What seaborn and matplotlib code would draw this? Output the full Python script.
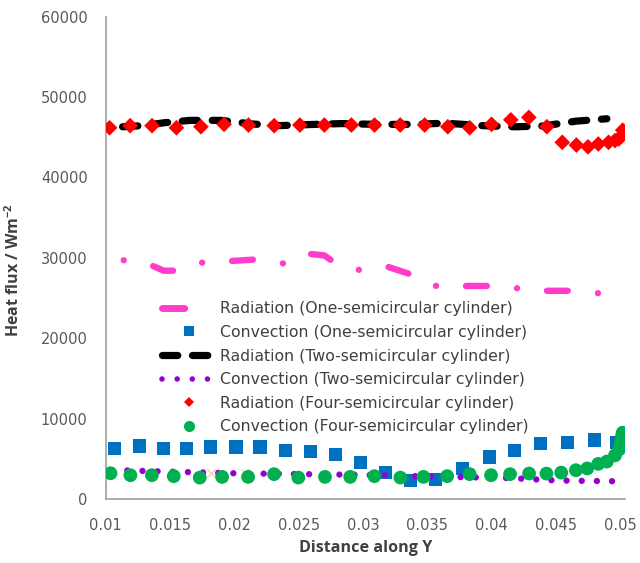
import matplotlib
matplotlib.use("Agg")
import matplotlib.pyplot as plt
from matplotlib.lines import Line2D
import seaborn as sns
import numpy as np

# ---------------- data ----------------
rad_one_x = [0.0114, 0.0135, 0.0145, 0.0153, 0.0175, 0.0197, 0.0217, 0.0238, 0.0258, 0.0270,
             0.0278, 0.0297, 0.0319, 0.0338, 0.0357, 0.0378, 0.0398, 0.0421, 0.0441, 0.0462,
             0.0483, 0.0500]
rad_one_y = [29700, 29100, 28400, 28400, 29400, 29600, 29800, 29300, 30500, 30300,
             29400, 28500, 28900, 27900, 26500, 26500, 26500, 26200, 25900, 25900,
             25600, 25900]

conv_one_x = [0.01068, 0.01265, 0.01448, 0.01628, 0.01817, 0.02013, 0.02199, 0.02395, 0.02592,
              0.02785, 0.02982, 0.03176, 0.03372, 0.03565, 0.03775, 0.03983, 0.04179, 0.04378,
              0.04588, 0.04798, 0.04971]
conv_one_y = [6290, 6590, 6290, 6290, 6470, 6470, 6470, 6040, 5870,
              5520, 4580, 3250, 2350, 2450, 3810, 5220, 6040, 6900,
              7030, 7330, 7030]

rad_two_x = [0.01131, 0.01292, 0.01453, 0.01656, 0.01897, 0.02139, 0.02355, 0.02624, 0.02839,
             0.03108, 0.03377, 0.03646, 0.03915, 0.04184, 0.04400, 0.04656, 0.04897]
rad_two_y = [46300, 46450, 46800, 47100, 47100, 46650, 46450, 46600, 46700,
             46600, 46600, 46750, 46450, 46300, 46400, 47000, 47300]

conv_two_x = [0.0105, 0.0150, 0.0200, 0.0250, 0.0300, 0.0330, 0.0350, 0.0400, 0.0415, 0.0450, 0.0499]
conv_two_y = [3600, 3400, 3200, 3100, 3000, 2900, 2800, 2650, 2600, 2300, 2200]

rad_four_x = [0.0103, 0.0119, 0.0136, 0.0155, 0.0174, 0.0192, 0.0211, 0.0231, 0.0251, 0.0270,
              0.0291, 0.0309, 0.0329, 0.0348, 0.0366, 0.0383, 0.0400, 0.0415, 0.0429, 0.0443,
              0.0455, 0.0466, 0.0475, 0.0483, 0.0491, 0.0496, 0.0499, 0.0501, 0.0502]
rad_four_y = [46180, 46440, 46440, 46180, 46310, 46610, 46520, 46440, 46520, 46520,
              46520, 46520, 46520, 46520, 46310, 46180, 46610, 47170, 47470, 46310,
              44370, 44030, 43810, 44160, 44370, 44590, 44800, 45150, 45880]

conv_four_x = [0.01037, 0.01192, 0.01359, 0.01529, 0.01731, 0.01905, 0.02107, 0.02309, 0.02498,
               0.02705, 0.02901, 0.03089, 0.03291, 0.03471, 0.03655, 0.03830, 0.03996, 0.04144,
               0.04292, 0.04427, 0.04542, 0.04656, 0.04744, 0.04830, 0.04897, 0.04960, 0.04992,
               0.05005, 0.05015, 0.05020]
conv_four_y = [3200, 2960, 2960, 2840, 2660, 2750, 2750, 3090, 2660,
               2750, 2750, 2840, 2660, 2750, 2840, 3090, 2960, 3090,
               3170, 3160, 3280, 3580, 3800, 4370, 4660, 5430, 6170,
               7030, 7890, 8250]

stray_x = [0.0182, 0.0208]
stray_y = [3200, 3250]

labels = ["Radiation (One-semicircular cylinder)",
          "Convection (One-semicircular cylinder)",
          "Radiation (Two-semicircular cylinder)",
          "Convection (Two-semicircular cylinder)",
          "Radiation (Four-semicircular cylinder)",
          "Convection (Four-semicircular cylinder)"]

x_ticks = [0.01, 0.015, 0.02, 0.025, 0.03, 0.035, 0.04, 0.045, 0.05]
x_tick_labels = ["0.01", "0.015", "0.02", "0.025", "0.03", "0.035", "0.04", "0.045", "0.05"]
y_ticks = [0, 10000, 20000, 30000, 40000, 50000, 60000]

# ---------------- style ----------------
sns.set_theme(style="white")
plt.rcParams["font.family"] = ["DejaVu Sans"]
plt.rcParams["lines.scale_dashes"] = False

PINK = "#FF3CCB"
BLUE = "#0070C0"
BLACK = "#000000"
PURPLE = "#9400D3"
RED = "#FF0000"
GREEN = "#00B050"
AXIS = "#A6A6A6"
TEXT = "#404040"

fig = plt.figure(figsize=(6.4, 5.63), dpi=100)
ax = fig.add_axes([0.1652, 0.1137, 0.8118, 0.8567])

pink_ls = (0, (0.01, 21.6, 15.0, 21.8))
black_ls = (0, (11.0, 10.6))
purple_ls = (0, (0.01, 10.9))

sns.lineplot(x=rad_one_x, y=rad_one_y, ax=ax, color=PINK, linewidth=4.6,
             linestyle=pink_ls, dash_capstyle="round", sort=False, zorder=2)
sns.scatterplot(x=conv_one_x, y=conv_one_y, ax=ax, marker="s", s=90, color=BLUE,
                edgecolor="none", linewidth=0, zorder=3)
sns.lineplot(x=rad_two_x, y=rad_two_y, ax=ax, color=BLACK, linewidth=5.2,
             linestyle=black_ls, dash_capstyle="round", sort=False, zorder=4)
sns.lineplot(x=conv_two_x, y=conv_two_y, ax=ax, color=PURPLE, linewidth=4.6,
             linestyle=purple_ls, dash_capstyle="round", sort=False, zorder=5)
sns.scatterplot(x=rad_four_x, y=rad_four_y, ax=ax, marker="D", s=64, color=RED,
                edgecolor="none", linewidth=0, zorder=6)
sns.scatterplot(x=conv_four_x, y=conv_four_y, ax=ax, marker="o", s=98, color=GREEN,
                edgecolor="none", linewidth=0, zorder=7)
sns.scatterplot(x=stray_x, y=stray_y, ax=ax, marker="x", s=40, color="#F4B183",
                linewidth=1.0, alpha=0.6, zorder=2.5)

ax.set_xlim(0.01, 0.0504)
ax.set_ylim(0, 60000)
ax.set_xticks(x_ticks)
ax.set_xticklabels(x_tick_labels)
ax.set_yticks(y_ticks)
ax.set_yticklabels([str(v) for v in y_ticks])
ax.tick_params(axis="both", length=0, labelsize=10.5, labelcolor="#595959")
ax.tick_params(axis="x", pad=14)
ax.tick_params(axis="y", pad=13)

for side in ["top", "right"]:
    ax.spines[side].set_visible(False)
for side in ["left", "bottom"]:
    ax.spines[side].set_color(AXIS)
    ax.spines[side].set_linewidth(1.3)
ax.grid(False)

ax.set_xlabel("Distance along Y", fontsize=11.6, fontweight="bold", color=TEXT,
              family=["Open Sans", "DejaVu Sans"], labelpad=5)
ax.set_ylabel("Heat flux / Wm$^{\\mathregular{-2}}$", fontsize=11.5, fontweight="bold", color=TEXT,
              family=["Open Sans", "DejaVu Sans"])
ax.yaxis.set_label_coords(-0.159, 0.475)

handles = [
    Line2D([], [], color=PINK, linewidth=5, linestyle=(0, (16, 60)), dash_capstyle="round"),
    Line2D([], [], color=BLUE, marker="s", markersize=7.6, linestyle="none", markeredgewidth=0),
    Line2D([], [], color=BLACK, linewidth=5.2, linestyle=(0, (11.0, 10.6)), dash_capstyle="round"),
    Line2D([], [], color=PURPLE, linewidth=4.0, linestyle=(0, (0.01, 10.9)), dash_capstyle="round"),
    Line2D([], [], color=RED, marker="D", markersize=5.2, linestyle="none", markeredgewidth=0),
    Line2D([], [], color=GREEN, marker="o", markersize=8, linestyle="none", markeredgewidth=0),
]
leg = fig.legend(handles, labels, loc="upper left", bbox_to_anchor=(0.2413, 0.4787),
                 bbox_transform=fig.transFigure, frameon=False, borderpad=0,
                 fontsize=11.3, handlelength=3.4, handletextpad=0.25, labelspacing=0.55)
for t in leg.get_texts():
    t.set_color(TEXT)

fig.savefig("out.png", dpi=100)
